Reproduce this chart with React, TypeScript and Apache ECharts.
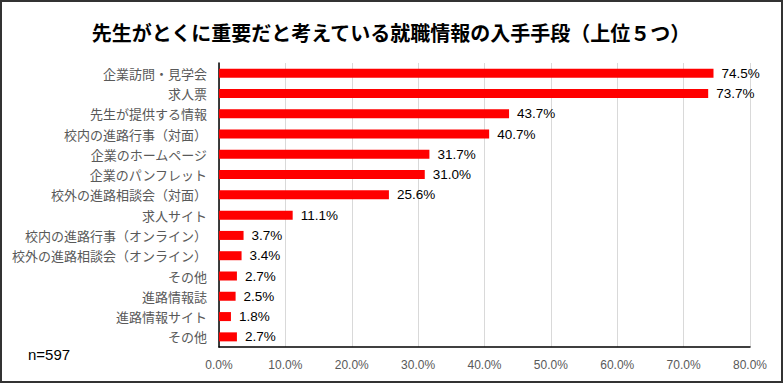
import React, { useEffect, useRef } from "react";
import * as echarts from "echarts";

const titleText = "先生がとくに重要だと考えている就職情報の入手手段（上位５つ）";
const categories = [
  "企業訪問・見学会",
  "求人票",
  "先生が提供する情報",
  "校内の進路行事（対面）",
  "企業のホームページ",
  "企業のパンフレット",
  "校外の進路相談会（対面）",
  "求人サイト",
  "校内の進路行事（オンライン）",
  "校外の進路相談会（オンライン）",
  "その他",
  "進路情報誌",
  "進路情報サイト",
  "その他",
];
const values = [74.5, 73.7, 43.7, 40.7, 31.7, 31.0, 25.6, 11.1, 3.7, 3.4, 2.7, 2.5, 1.8, 2.7];
const noteText = "n=597";

const JP = '"Noto Sans CJK JP", sans-serif';
const LAT = '"Liberation Sans", "Noto Sans CJK JP", sans-serif';

export default function App() {
  const ref = useRef<HTMLDivElement>(null);
  useEffect(() => {
    document.body.style.margin = "0";
    const chart = echarts.init(ref.current!, null, { renderer: "svg" });
    chart.setOption({
      animation: false,
      backgroundColor: "#ffffff",
      title: {
        text: titleText,
        left: 386,
        textAlign: "center",
        top: 17,
        textStyle: { fontFamily: JP, fontSize: 20, fontWeight: "bold", color: "#000000" },
      },
      grid: { left: 219, right: 33, top: 63, bottom: 36, containLabel: false },
      xAxis: {
        type: "value",
        min: 0,
        max: 80,
        interval: 10,
        axisLine: { show: true, lineStyle: { color: "#000000", width: 1.5 } },
        axisTick: { show: false },
        axisLabel: {
          formatter: (v: number) => v.toFixed(1) + "%",
          color: "#595959",
          fontSize: 12,
          fontFamily: LAT,
          margin: 12,
        },
        splitLine: { show: true, lineStyle: { color: "#d9d9d9", width: 1 } },
      },
      yAxis: {
        type: "category",
        data: categories,
        inverse: true,
        axisLine: { show: true, lineStyle: { color: "#000000", width: 1.5 } },
        axisTick: { show: false },
        axisLabel: { color: "#595959", fontSize: 13, fontFamily: JP, margin: 12 },
        splitLine: { show: false },
      },
      series: [
        {
          type: "bar",
          data: values,
          barWidth: 9,
          itemStyle: { color: "#ff0000" },
          label: {
            show: true,
            position: "right",
            distance: 8,
            formatter: (p: any) => Number(p.value).toFixed(1) + "%",
            color: "#000000",
            fontSize: 13.5,
            fontFamily: LAT,
          },
        },
      ],
      graphic: [
        {
          type: "rect",
          shape: { x: 1, y: 1, width: 781, height: 381 },
          style: { fill: "none", stroke: "#333333", lineWidth: 2 },
          silent: true,
        },
        {
          type: "text",
          left: 28,
          top: 347,
          style: { text: noteText, fontSize: 15, fontFamily: LAT, fill: "#000000" },
        },
      ],
    });
    return () => chart.dispose();
  }, []);
  return <div ref={ref} style={{ width: 783, height: 383 }} />;
}
